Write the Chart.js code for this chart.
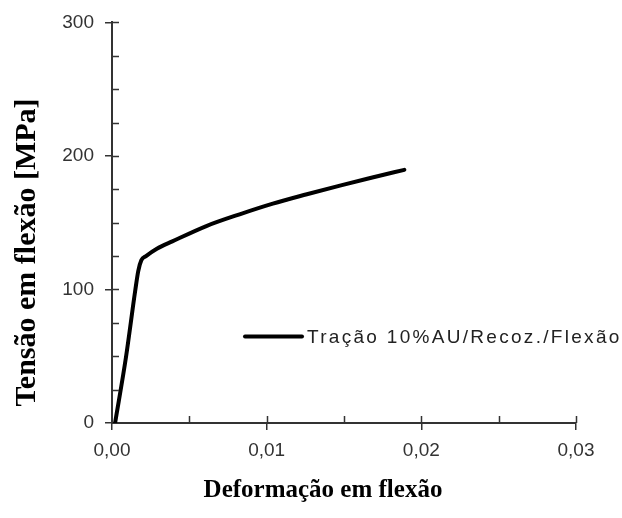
<!DOCTYPE html>
<html>
<head>
<meta charset="utf-8">
<script src="https://cdn.jsdelivr.net/npm/chart.js@4.4.1/dist/chart.umd.min.js"></script>
<style>
  html, body { margin: 0; padding: 0; background: #fff; }
</style>
</head>
<body>
<canvas id="chart" width="622" height="518"></canvas>
<script>
// data
const strain = [0.0002, 0.0009, 0.0015, 0.0017, 0.0019, 0.0022, 0.0029, 0.0039, 0.0061, 0.0083, 0.0104, 0.0126, 0.0148, 0.0169, 0.0189];
const stress = [0, 49, 99, 114, 122, 125, 130.5, 136, 147.5, 156.5, 164.3, 171.3, 178, 184, 189.6];
const seriesLabel = 'Tração 10%AU/Recoz./Flexão';
const xTitle = 'Deformação em flexão';
const yTitle = 'Tensão em flexão [MPa]';
const xMinorTicks = [0.005, 0.01, 0.015, 0.02, 0.025, 0.03];
const yMinorTicks = [25, 50, 75, 100, 125, 150, 175, 200, 225, 250, 275, 300];

const axisColor = '#333';

// inner tick marks, in-plot legend and the two axis titles
const extras = {
    id: 'extras',
    afterDraw(chart) {
        const ctx = chart.ctx;
        const area = chart.chartArea;
        const xs = chart.scales.x, ys = chart.scales.y;
        ctx.save();

        ctx.strokeStyle = axisColor;
        ctx.lineWidth = 1.5;
        ctx.beginPath();
        yMinorTicks.forEach(function (v) {
            const p = Math.round(ys.getPixelForValue(v)) + 0.5;
            ctx.moveTo(area.left, p);
            ctx.lineTo(area.left + 7, p);
        });
        xMinorTicks.forEach(function (v) {
            const p = Math.round(xs.getPixelForValue(v)) + 0.5;
            ctx.moveTo(p, area.bottom);
            ctx.lineTo(p, area.bottom - 7);
        });
        ctx.stroke();

        // legend
        const ds = chart.data.datasets[0];
        const ly = area.top + 314;
        ctx.strokeStyle = ds.borderColor;
        ctx.lineWidth = ds.borderWidth;
        ctx.lineCap = 'round';
        ctx.beginPath();
        ctx.moveTo(area.left + 133, ly);
        ctx.lineTo(area.left + 190, ly);
        ctx.stroke();
        ctx.fillStyle = '#222';
        ctx.font = '19px "Liberation Sans", Arial, sans-serif';
        ctx.textAlign = 'left';
        ctx.textBaseline = 'middle';
        if ('letterSpacing' in ctx) ctx.letterSpacing = '2.3px';
        ctx.fillText(ds.label, area.left + 195, ly + 1);
        if ('letterSpacing' in ctx) ctx.letterSpacing = '0px';

        // axis titles
        ctx.fillStyle = '#000';
        ctx.textAlign = 'center';
        ctx.font = 'bold 25px "Liberation Serif", "Times New Roman", serif';
        ctx.fillText(xTitle, area.left + 211, area.bottom + 68);
        ctx.translate(27, area.top + 230);
        ctx.rotate(-Math.PI / 2);
        ctx.font = 'bold 30px "Liberation Serif", "Times New Roman", serif';
        ctx.fillText(yTitle, 0, 0);

        ctx.restore();
    }
};

const tickFont = { family: '"Liberation Sans", Arial, sans-serif', size: 19 };

new Chart(document.getElementById('chart'), {
    type: 'line',
    data: {
        datasets: [{
            label: seriesLabel,
            data: strain.map(function (x, i) { return { x: x, y: stress[i] }; }),
            borderColor: '#000',
            borderWidth: 4,
            borderCapStyle: 'round',
            borderJoinStyle: 'round',
            pointRadius: 0,
            cubicInterpolationMode: 'monotone',
            fill: false
        }]
    },
    options: {
        responsive: false,
        animation: false,
        layout: { padding: { left: 0, top: 21, right: 46, bottom: 0 } },
        plugins: {
            legend: { display: false },
            tooltip: { enabled: false }
        },
        scales: {
            x: {
                type: 'linear',
                min: 0,
                max: 0.03,
                afterFit: function (scale) { scale.height = 95; },
                grid: { drawOnChartArea: false, tickLength: 7, color: axisColor, lineWidth: 1.5 },
                border: { color: axisColor, width: 2 },
                ticks: {
                    stepSize: 0.01,
                    padding: 9,
                    color: '#333',
                    font: tickFont,
                    maxRotation: 0,
                    callback: function (v) { return v.toFixed(2).replace('.', ','); }
                }
            },
            y: {
                type: 'linear',
                min: 0,
                max: 300,
                afterFit: function (scale) { scale.width = 112; },
                grid: { drawOnChartArea: false, tickLength: 7, color: axisColor, lineWidth: 1.5 },
                border: { color: axisColor, width: 2 },
                ticks: {
                    stepSize: 100,
                    padding: 11,
                    color: '#333',
                    font: tickFont
                }
            }
        }
    },
    plugins: [extras]
});
</script>
</body>
</html>
